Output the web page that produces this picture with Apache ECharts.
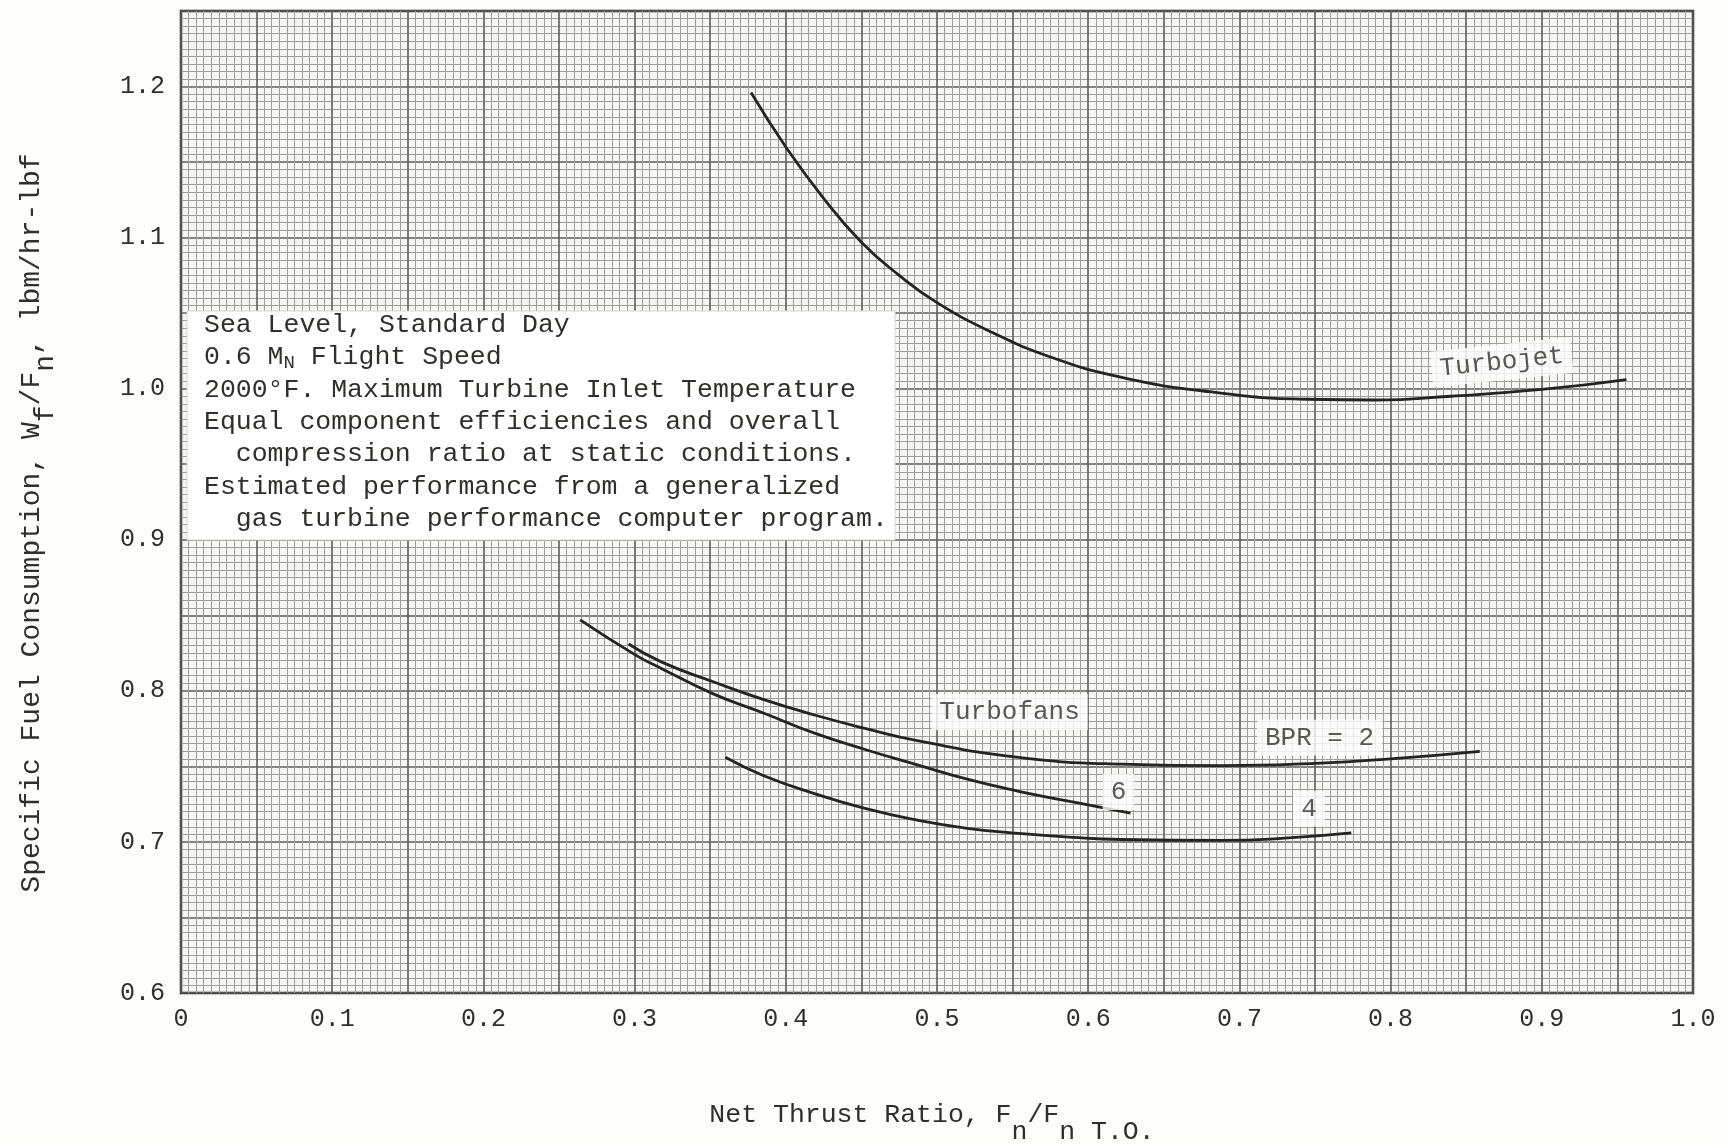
<!DOCTYPE html>
<html>
<head>
<meta charset="utf-8">
<script src="https://cdn.jsdelivr.net/npm/echarts@6.0.0/dist/echarts.min.js"></script>
<style>
  html, body { margin: 0; padding: 0; background: #fdfdfb; }
  #chart { width: 1725px; height: 1145px; }
</style>
</head>
<body>
<div id="chart"></div>
<script>
// SFC vs net thrust ratio, 0.6 Mach sea level

// turbojet
const turbojetX = [0.377, 0.400, 0.425, 0.450, 0.475, 0.500, 0.537, 0.575, 0.620, 0.680, 0.745, 0.790, 0.840, 0.900, 0.956];
const turbojetY = [1.196, 1.160, 1.126, 1.097, 1.075, 1.057, 1.037, 1.021, 1.008, 0.998, 0.993, 0.9925, 0.995, 0.9995, 1.006];

// turbofans, bypass ratio 2 / 4 / 6
const bpr2X = [0.296, 0.318, 0.352, 0.386, 0.419, 0.453, 0.487, 0.554, 0.622, 0.689, 0.750, 0.800, 0.859];
const bpr2Y = [0.831, 0.819, 0.806, 0.794, 0.784, 0.775, 0.767, 0.756, 0.7515, 0.7505, 0.752, 0.755, 0.760];

const bpr4X = [0.360, 0.385, 0.419, 0.453, 0.487, 0.520, 0.554, 0.590, 0.622, 0.689, 0.730, 0.774];
const bpr4Y = [0.756, 0.744, 0.732, 0.722, 0.7144, 0.709, 0.7056, 0.703, 0.7016, 0.701, 0.7025, 0.706];

const bpr6X = [0.264, 0.301, 0.318, 0.352, 0.386, 0.419, 0.453, 0.487, 0.520, 0.554, 0.588, 0.628];
const bpr6Y = [0.847, 0.8235, 0.8147, 0.798, 0.785, 0.772, 0.761, 0.751, 0.7415, 0.7335, 0.7268, 0.719];

// curve labels (placed in data coords)
const labelText = ["Turbojet", "Turbofans", "BPR = 2", "6", "4"];
const labelX    = [0.8735, 0.548, 0.753, 0.620, 0.746];
const labelY    = [1.0175, 0.786, 0.769, 0.733, 0.722];
const labelRot  = [6, 0, 0, 0, 0];

const noteLines = [
  "Sea Level, Standard Day",
  "0.6 M{sub|N} Flight Speed",
  "2000°F. Maximum Turbine Inlet Temperature",
  "Equal component efficiencies and overall",
  "  compression ratio at static conditions.",
  "Estimated performance from a generalized",
  "  gas turbine performance computer program.",
];

const FONT = "'Liberation Mono', 'DejaVu Sans Mono', monospace";
const INK = "#2f2f2c";
const CURVE = "#242422";

const pairs = (xs, ys) => xs.map((x, i) => [x, ys[i]]);

function tickFmt(v) {
  const k = Math.round(v * 20);
  if (k % 2) return "";
  return k === 0 ? "0" : (k / 20).toFixed(1);
}

const chart = echarts.init(document.getElementById("chart"), null, { renderer: "canvas" });

const curveBase = {
  type: "line", smooth: 0.5, showSymbol: false, symbol: "none",
  lineStyle: { color: CURVE, width: 2.8 }, z: 5, silent: true,
};

const axBase = {
  type: "value", interval: 0.05,
  axisLine: { show: false }, axisTick: { show: false },
  splitLine: { show: true, lineStyle: { color: "#5e5e5b", width: 1.6 } },
  minorTick: { show: false, splitNumber: 10 },
  minorSplitLine: { show: true, lineStyle: { color: "#9e9e9a", width: 1 } },
};

chart.setOption({
  backgroundColor: "#fdfdfb",
  animation: false,
  grid: {
    left: 181, right: 32, top: 11, bottom: 152,
    containLabel: false, outerBoundsMode: "none",
    show: true, backgroundColor: "#f6f6f2", borderColor: "#262624", borderWidth: 2.5, z: 0,
  },
  xAxis: {
    ...axBase, min: 0, max: 1,
    axisLabel: { color: INK, fontFamily: FONT, fontSize: 25, margin: 14, formatter: tickFmt,
                 showMinLabel: true, showMaxLabel: true },
  },
  yAxis: {
    ...axBase, min: 0.6, max: 1.25,
    axisLabel: { color: INK, fontFamily: FONT, fontSize: 25, margin: 16, formatter: tickFmt,
                 showMinLabel: true, showMaxLabel: true },
  },
  series: [
    { ...curveBase, name: "Turbojet", data: pairs(turbojetX, turbojetY) },
    { ...curveBase, name: "BPR 2", data: pairs(bpr2X, bpr2Y) },
    { ...curveBase, name: "BPR 4", data: pairs(bpr4X, bpr4Y) },
    { ...curveBase, name: "BPR 6", data: pairs(bpr6X, bpr6Y) },
    {
      type: "scatter", symbolSize: 0, silent: true, z: 8,
      data: labelText.map((t, i) => ({
        value: [labelX[i], labelY[i]],
        label: { formatter: t, rotate: labelRot[i] },
      })),
      label: {
        show: true, position: "inside", color: INK, fontFamily: FONT, fontSize: 26,
        backgroundColor: "#ffffff", padding: [6, 8, 4, 8],
      },
    },
  ],
  graphic: [
    // note box
    {
      type: "rect", z: 20, silent: true,
      shape: { x: 187, y: 311, width: 708, height: 229 },
      style: { fill: "#ffffff", stroke: "#d8d8d4", lineWidth: 1 },
    },
    {
      type: "text", z: 21, silent: true, x: 204, y: 309,
      style: {
        text: noteLines.join("\n"), fill: INK, fontFamily: FONT, fontSize: 26.5,
        lineHeight: 32.3, align: "left", verticalAlign: "top",
        rich: { sub: { fontFamily: FONT, fontSize: 19, lineHeight: 20, padding: [12, 0, 0, 0], verticalAlign: "top", fill: INK } },
      },
    },
    // x axis title
    {
      type: "text", z: 21, silent: true, x: 932, y: 1101,
      style: {
        text: "{n|Net Thrust Ratio, F}{s|n}{n|/F}{s|n T.O.}",
        align: "center", verticalAlign: "top", fill: INK,
        rich: {
          n: { fontFamily: FONT, fontSize: 26.5, lineHeight: 30, verticalAlign: "top", fill: INK },
          s: { fontFamily: FONT, fontSize: 26.5, lineHeight: 26, padding: [17, 0, 0, 0], verticalAlign: "top", fill: INK },
        },
      },
    },
    // y axis title
    {
      type: "text", z: 21, silent: true, x: 18, y: 523, rotation: Math.PI / 2,
      style: {
        text: "{n|Specific Fuel Consumption, W}{s|f}{n|/F}{s|n}{n|, lbm/hr-lbf}",
        align: "center", verticalAlign: "top", fill: INK,
        rich: {
          n: { fontFamily: FONT, fontSize: 28, lineHeight: 30, verticalAlign: "top", fill: INK },
          s: { fontFamily: FONT, fontSize: 28, lineHeight: 26, padding: [14, 0, 0, 0], verticalAlign: "top", fill: INK },
        },
      },
    },
  ],
});
</script>
</body>
</html>
